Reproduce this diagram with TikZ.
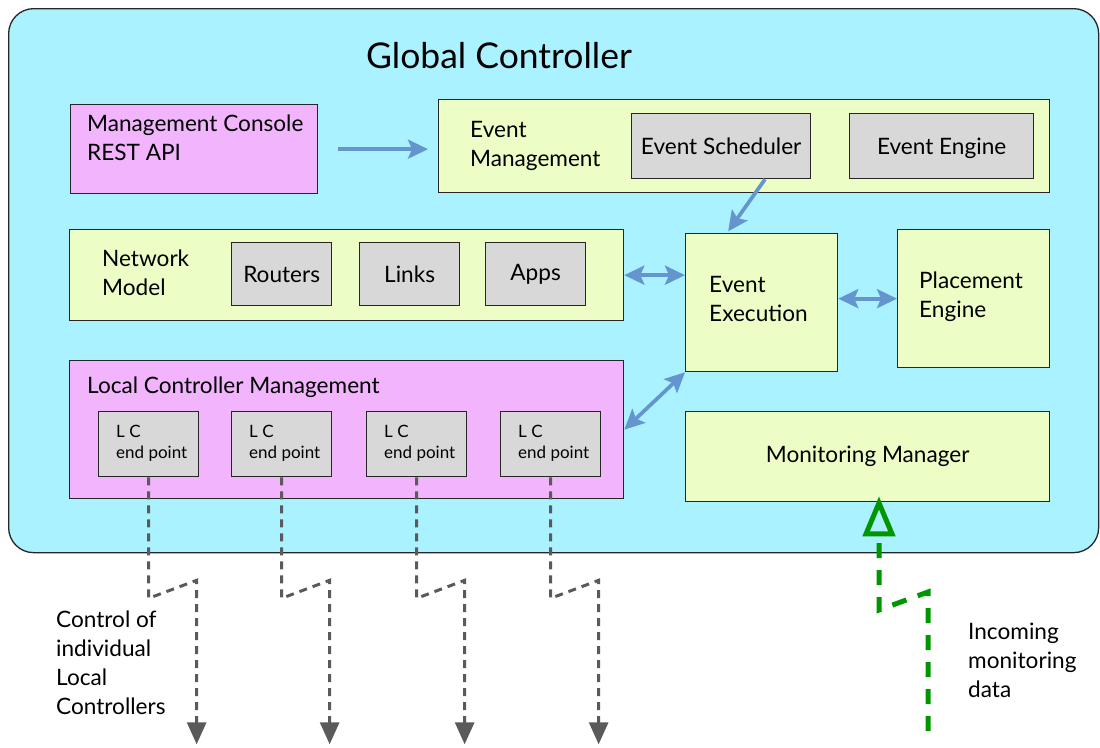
\documentclass[tikz,border=0pt]{standalone}
\usepackage{fontspec}
\setmainfont{Lato}
\usetikzlibrary{arrows.meta}
\definecolor{gcbg}{RGB}{170,242,255}
\definecolor{pinkbox}{RGB}{242,180,252}
\definecolor{limebox}{RGB}{236,253,198}
\definecolor{greybox}{RGB}{216,216,216}
\definecolor{flowblue}{RGB}{100,150,205}
\definecolor{ctrlgrey}{RGB}{90,90,90}
\definecolor{mongreen}{RGB}{0,150,0}
\newcommand{\bodyfont}{\fontsize{22.6}{29}\selectfont}
\newcommand{\smallfont}{\fontsize{17}{21}\selectfont}
\begin{document}
\begin{tikzpicture}[x=1pt,y=-1pt,
  box/.style={draw=black!85, line width=1.3pt, anchor=north west, inner sep=0pt},
  pinkpanel/.style={box, fill=pinkbox},
  limepanel/.style={box, fill=limebox},
  greypanel/.style={box, fill=greybox},
  lbl/.style={font=\bodyfont, inner sep=0pt, align=left, anchor=base west},
  clbl/.style={font=\bodyfont, inner sep=0pt},
  flow/.style={draw=flowblue, line width=3.7pt, -{Stealth[length=20pt,width=19pt,inset=4pt]}},
  flowboth/.style={draw=flowblue, line width=3.7pt, {Stealth[length=20pt,width=19pt,inset=4pt]}-{Stealth[length=20pt,width=19pt,inset=4pt]}},
  ctrl/.style={draw=ctrlgrey, line width=3pt, dash pattern=on 8pt off 6pt, -{Triangle[length=22pt,width=19pt]}},
  mon/.style={draw=mongreen, line width=5pt, dash pattern=on 15pt off 12pt, -{Triangle[open,length=40pt,width=32pt]}}
]
\useasboundingbox (0,0) rectangle (1100,747);

% global controller frame
\node[draw=black!85, line width=1.3pt, fill=gcbg, rounded corners=25pt, anchor=north west,
      minimum width=1090pt, minimum height=544pt, inner sep=0pt] (gc) at (8,8) {};
\node[font=\fontsize{35.5}{40}\selectfont, inner sep=0pt, anchor=base] (title) at (499,68) {Global Controller};

% management console (labels anchored on the baseline of their last line)
\node[pinkpanel, minimum width=247pt, minimum height=89pt] (mc) at (70,104) {};
\node[lbl] (mclbl) at (87,160) {Management Console\\REST API};

% event management
\node[limepanel, minimum width=611pt, minimum height=93pt] (em) at (438,99) {};
\node[lbl] (emlbl) at (470,166) {Event\\Management};
\node[greypanel, minimum width=179pt, minimum height=65pt] (sched) at (631,113) {};
\node[clbl] at (sched.center) {Event Scheduler};
\node[greypanel, minimum width=184pt, minimum height=65pt] (engine) at (849,113) {};
\node[clbl, yshift=-2pt] at (engine.center) {Event Engine};

% network model
\node[limepanel, minimum width=554pt, minimum height=91pt] (net) at (69,229) {};
\node[lbl] (netlbl) at (102,295) {Network\\Model};
\node[greypanel, minimum width=100pt, minimum height=63pt] (routers) at (231,242) {};
\node[clbl] at (routers.center) {Routers};
\node[greypanel, minimum width=100pt, minimum height=63pt] (links) at (359,242) {};
\node[clbl] at (links.center) {Links};
\node[greypanel, minimum width=100pt, minimum height=63pt] (apps) at (485,242) {};
\node[clbl] at (apps.center) {Apps};

% event execution and placement
\node[limepanel, minimum width=152pt, minimum height=138pt] (exec) at (685,233) {};
\node[lbl] (execlbl) at (709,321) {Event\\Execution};
\node[limepanel, minimum width=152pt, minimum height=138pt] (place) at (897,229) {};
\node[lbl] (placelbl) at (919,317) {Placement\\Engine};

% local controller management
\node[pinkpanel, minimum width=554pt, minimum height=138pt] (lcm) at (69,360) {};
\node[lbl] (lcmlbl) at (87,393) {Local Controller Management};
\foreach \i/\x in {1/98,2/231,3/366,4/500}{
  \node[greypanel, minimum width=100pt, minimum height=65pt] (lc\i) at (\x,411) {};
  \node[font=\smallfont, inner sep=0pt, align=left, anchor=base west] at ([xshift=18pt,yshift=-47pt]lc\i.north west) {L C\\end point};
}

% monitoring manager
\node[limepanel, minimum width=364pt, minimum height=90pt] (monmgr) at (685,411) {};
\node[clbl] at (monmgr.center) {Monitoring Manager};

% internal flows
\draw[flow, shorten <=20pt, shorten >=10pt] (mc.east) -- (mc.east -| em.west);
\draw[flow, shorten >=2pt] (sched.south -| 765,0) -- (exec.north -| 727,0);
\draw[flowboth] (net.east) -- (net.east -| exec.west);
\draw[flowboth] (exec.east |- place.west) -- (place.west);
\draw[flowboth] (lcm.east) -- (exec.south west);

% control links to the local controllers
\foreach \i in {1,...,4}{
  \draw[ctrl] (lc\i.south) -- ++(0,121) -- ++(48,-18) -- ++(0,164);
}
\node[lbl] (ctrllbl) at (56,714) {Control of\\individual\\Local\\Controllers};

% monitoring feed
\coordinate (feed) at (928,731);
\draw[mon] (feed) -- (928,592) -- (879,610) -- ([yshift=6pt]monmgr.south -| 879,0);
\node[lbl] (feedlbl) at (968,697) {Incoming\\monitoring\\data};
\end{tikzpicture}
\end{document}
